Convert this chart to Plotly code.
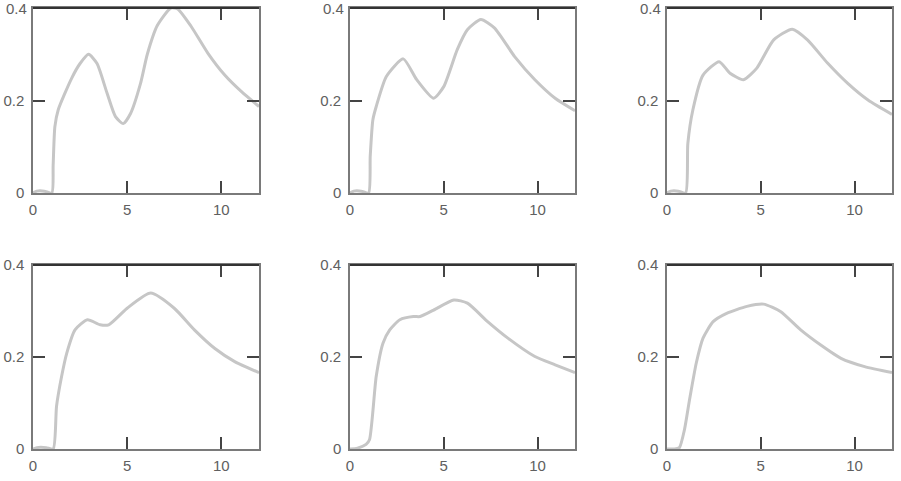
import plotly.graph_objects as go

# ---- data (x, y per panel) ----
x1 = [0, 0.2, 0.6, 1.0, 1.07, 1.16, 1.34, 2.05, 2.5, 2.95, 3.4, 3.93, 4.38, 4.79, 5.18, 5.71, 6.07, 6.6, 7.32, 7.68, 8.4, 9.29, 10.18, 11.07, 12.0]
y1 = [0, 0.004, 0.004, 0, 0.06, 0.143, 0.18, 0.248, 0.28, 0.30, 0.28, 0.216, 0.165, 0.15, 0.172, 0.237, 0.30, 0.362, 0.40, 0.398, 0.36, 0.302, 0.255, 0.219, 0.187]

x2 = [0, 0.2, 0.6, 0.99, 1.08, 1.22, 1.4, 1.94, 2.84, 3.56, 4.46, 5.0, 5.72, 6.26, 6.98, 7.7, 8.78, 9.86, 10.94, 12.0]
y2 = [0, 0.004, 0.004, 0, 0.08, 0.158, 0.187, 0.252, 0.29, 0.245, 0.205, 0.23, 0.31, 0.353, 0.375, 0.357, 0.295, 0.245, 0.205, 0.178]

x3 = [0, 0.2, 0.6, 0.99, 1.11, 1.38, 1.92, 2.78, 3.36, 4.08, 4.79, 5.69, 6.68, 7.49, 8.56, 9.64, 10.72, 12.0]
y3 = [0, 0.004, 0.004, 0, 0.107, 0.18, 0.255, 0.284, 0.259, 0.245, 0.27, 0.331, 0.354, 0.331, 0.281, 0.237, 0.201, 0.17]

x4 = [0, 0.2, 0.7, 1.07, 1.25, 1.52, 1.79, 2.23, 2.89, 3.57, 4.02, 5.0, 6.25, 7.5, 8.57, 9.64, 10.71, 12.0]
y4 = [0, 0.003, 0.003, 0, 0.093, 0.158, 0.208, 0.259, 0.281, 0.27, 0.27, 0.306, 0.339, 0.306, 0.259, 0.219, 0.19, 0.166]

x5 = [0, 0.4, 0.86, 1.04, 1.4, 1.76, 2.12, 2.66, 3.38, 3.74, 4.46, 5.54, 6.26, 7.34, 8.42, 9.86, 10.94, 12.0]
y5 = [0, 0.002, 0.01, 0.02, 0.158, 0.23, 0.259, 0.281, 0.288, 0.288, 0.302, 0.324, 0.317, 0.277, 0.241, 0.201, 0.183, 0.166]

x6 = [0, 0.4, 0.66, 0.93, 1.2, 1.56, 1.92, 2.46, 3.18, 4.26, 5.15, 6.05, 7.13, 8.2, 9.28, 10.54, 12.0]
y6 = [0, 0, 0.003, 0.042, 0.107, 0.187, 0.241, 0.277, 0.295, 0.31, 0.315, 0.299, 0.259, 0.226, 0.197, 0.179, 0.166]

series = [(x1, y1), (x2, y2), (x3, y3), (x4, y4), (x5, y5), (x6, y6)]

x_ticks = [0, 5, 10]
x_tick_labels = ["0", "5", "10"]
y_ticks = [0, 0.2, 0.4]
y_tick_labels = ["0", "0.2", "0.4"]

# ---- layout geometry ----
x_domains = [[0.0, 0.2631], [0.3690, 0.6310], [0.7381, 1.0]]
y_domains = [[0.5805, 1.0], [0.0, 0.4172]]

fig = go.Figure()
layout = {}
shapes = []
annotations = []
font = dict(family="Liberation Sans", size=15, color="#606060")

for i, (xs, ys) in enumerate(series):
    r, c = divmod(i, 3)
    n = i + 1
    xa = "x" if n == 1 else f"x{n}"
    ya = "y" if n == 1 else f"y{n}"
    fig.add_trace(go.Scatter(
        x=xs, y=ys, mode="lines",
        line=dict(color="#c6c6c6", width=3, shape="spline", smoothing=0.6),
        xaxis=xa, yaxis=ya, showlegend=False, hoverinfo="skip"))
    axis_common = dict(showgrid=False, zeroline=False, showline=True,
                       linecolor="#7a7a7a", linewidth=1.5, mirror="ticks",
                       ticks="inside", ticklen=12, tickwidth=1.5,
                       tickcolor="#444444", tickfont=font, fixedrange=True,
                       automargin=False)
    # top-row labels at the upper end would be dropped at the page edge,
    # so that one label is drawn as an annotation instead
    ytext = list(y_tick_labels)
    if r == 0:
        ytext[-1] = ""
        annotations.append(dict(text=y_tick_labels[-1], xref=f"{xa} domain", yref=ya,
                                x=0, y=y_ticks[-1], xanchor="right", yanchor="middle",
                                xshift=-4, showarrow=False, font=font))
    layout[f"xaxis{'' if n == 1 else n}"] = dict(
        domain=x_domains[c], anchor=ya, range=[0, 12],
        tickvals=x_ticks, ticktext=x_tick_labels, ticklabelstandoff=2,
        **axis_common)
    layout[f"yaxis{'' if n == 1 else n}"] = dict(
        domain=y_domains[r], anchor=xa, range=[0, 0.4],
        tickvals=y_ticks, ticktext=ytext, ticklabelstandoff=4,
        **axis_common)
    shapes.append(dict(type="line", xref=f"{xa} domain", yref=f"{ya} domain",
                       x0=0, x1=1, y0=1, y1=1,
                       line=dict(color="#333333", width=2)))

fig.update_layout(
    **layout,
    shapes=shapes,
    annotations=annotations,
    width=901, height=481,
    margin=dict(l=33, r=9, t=8, b=32, autoexpand=False),
    paper_bgcolor="white", plot_bgcolor="white",
)

fig.write_html("out.html", config={"displayModeBar": False},
               post_script="document.body.style.margin='0px';document.body.style.padding='0px';")
